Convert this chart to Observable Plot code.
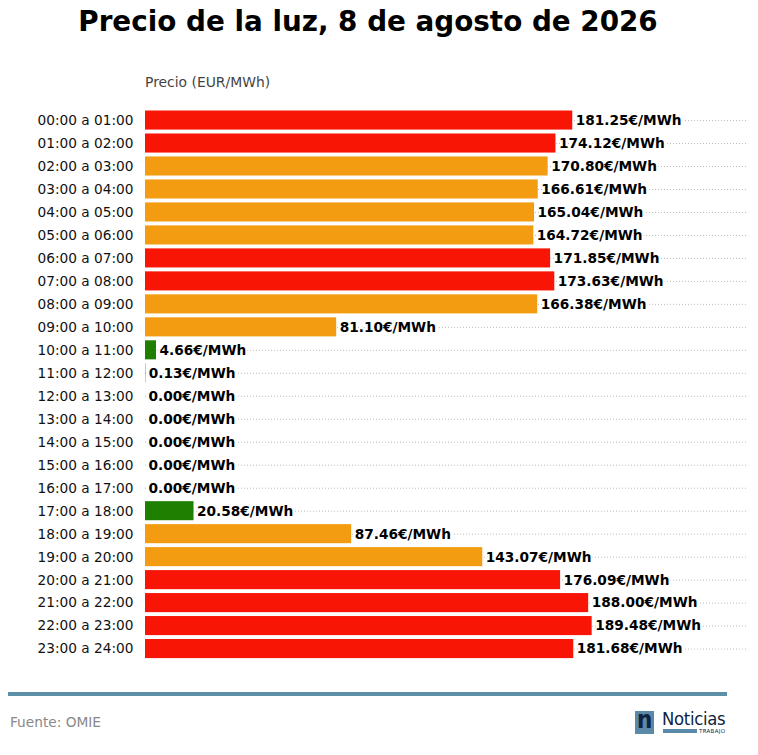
<!DOCTYPE html>
<html>
<head>
<meta charset="utf-8">
<script src="https://cdn.jsdelivr.net/npm/d3@7"></script>
<script src="https://cdn.jsdelivr.net/npm/@observablehq/plot@0.6"></script>
<style>
  html, body { margin: 0; padding: 0; background: #fff; width: 758px; height: 755px; overflow: hidden; font-family: "DejaVu Sans", sans-serif; }
  #title { position: absolute; left: 0; top: 5px; width: 736px; text-align: center; font-size: 27.8px; font-weight: bold; color: #000; }
  #xlabel { position: absolute; left: 145px; top: 74px; font-size: 13.9px; color: #444; z-index: 2; }
  #chart { position: absolute; left: 0; top: 60px; z-index: 1; }
  #rule { position: absolute; left: 8px; top: 692px; width: 719px; height: 4px; background: #5b90a8; }
  #source { position: absolute; left: 10px; top: 714px; font-size: 13.7px; color: #888; }
  #logo { position: absolute; left: 635px; top: 710px; width: 95px; height: 25px; }
  #logo div { line-height: 1; }
  #logo .sq { position: absolute; left: 0; top: 1px; width: 19px; height: 23px; background: #5b8aa8; }
  #logo .n { position: absolute; left: 2px; top: -2px; font-size: 24px; font-weight: bold; color: #0f2440; font-family: "DejaVu Sans Condensed", sans-serif; }
  #logo .word { position: absolute; left: 27px; top: 0px; font-size: 18.3px; line-height: 17px !important; height: 17px; color: #0f2440; font-family: "DejaVu Sans Condensed", sans-serif; letter-spacing: -0.3px; }
  #logo .bar { position: absolute; left: 28px; top: 19px; width: 34px; height: 4px; background: #5b8aa8; }
  #logo .tr { position: absolute; left: 64px; top: 18.5px; font-size: 5.5px; color: #0f2440; letter-spacing: 0.3px; }
</style>
</head>
<body>
<div id="title">Precio de la luz, 8 de agosto de 2026</div>
<div id="xlabel">Precio (EUR/MWh)</div>
<div id="chart"></div>
<div id="rule"></div>
<div id="source">Fuente: OMIE</div>
<div id="logo"><div class="sq"></div><div class="n">n</div><div class="word">Noticias</div><div class="bar"></div><div class="tr">TRABAJO</div></div>
<script>
const horas = [
  "00:00 a 01:00","01:00 a 02:00","02:00 a 03:00","03:00 a 04:00","04:00 a 05:00","05:00 a 06:00",
  "06:00 a 07:00","07:00 a 08:00","08:00 a 09:00","09:00 a 10:00","10:00 a 11:00","11:00 a 12:00",
  "12:00 a 13:00","13:00 a 14:00","14:00 a 15:00","15:00 a 16:00","16:00 a 17:00","17:00 a 18:00",
  "18:00 a 19:00","19:00 a 20:00","20:00 a 21:00","21:00 a 22:00","22:00 a 23:00","23:00 a 24:00"
];
const precios = [181.25,174.12,170.80,166.61,165.04,164.72,171.85,173.63,166.38,81.10,4.66,0.13,
  0.00,0.00,0.00,0.00,0.00,20.58,87.46,143.07,176.09,188.00,189.48,181.68];
const niveles = ["alto","alto","medio","medio","medio","medio","alto","alto","medio","medio","bajo","bajo",
  "bajo","bajo","bajo","bajo","bajo","bajo","medio","medio","alto","alto","alto","alto"];
const nivelColores = {alto: "#f81506", medio: "#f39c12", bajo: "#1e7f00"};

const data = horas.map((h, i) => ({hora: h, precio: precios[i], nivel: niveles[i]}));
const maxP = d3.max(precios);

const chart = Plot.plot({
  width: 758,
  height: 602,
  marginLeft: 145,
  marginRight: 10,
  marginTop: 46.6,
  marginBottom: 0,
  style: {fontFamily: "DejaVu Sans, sans-serif", fontSize: "13.7px", background: "transparent"},
  x: {domain: [0, maxP * 1.35], axis: null},
  y: {domain: horas, padding: 0.17, round: false, label: null},
  color: {domain: Object.keys(nivelColores), range: Object.values(nivelColores)},
  marks: [
    Plot.gridY({stroke: "#aaa", strokeOpacity: 1, strokeWidth: 0.8, strokeDasharray: "1,2"}),
    Plot.barX(data, {x: "precio", y: "hora", fill: "nivel"}),
    Plot.text(data, {x: "precio", y: "hora", text: d => d.precio.toFixed(2) + "€/MWh", textAnchor: "start", dx: 3,
      fontWeight: "bold", fill: "#000", stroke: "#fff", strokeWidth: 4, paintOrder: "stroke", fontSize: 13.7}),
    Plot.axisY({tickSize: 0, tickPadding: 12, fontSize: 13.7, color: "#111"})
  ]
});
document.getElementById("chart").appendChild(chart);
</script>
</body>
</html>
